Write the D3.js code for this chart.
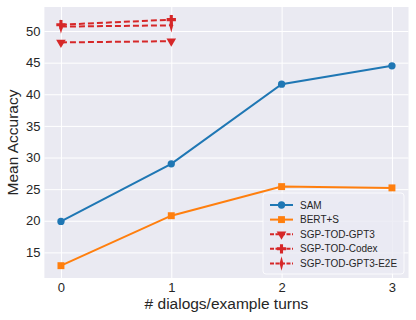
<!DOCTYPE html>
<html><head><meta charset="utf-8">
<script src="https://cdn.jsdelivr.net/npm/d3@7"></script>
<style>body{margin:0;background:#fff}svg{display:block}text{font-family:"Liberation Sans",Arial,sans-serif}</style>
</head><body>
<script>
const xTicks = [0, 1, 2, 3];
const yTicks = [15, 20, 25, 30, 35, 40, 45, 50];
const samX = [0, 1, 2, 3];
const samY = [19.9, 29.0, 41.6, 44.5];
const bertX = [0, 1, 2, 3];
const bertY = [12.9, 20.8, 25.4, 25.2];
const gpt3X = [0, 1];
const gpt3Y = [48.2, 48.4];
const codexX = [0, 1];
const codexY = [51.0, 51.8];
const e2eX = [0, 1];
const e2eY = [50.7, 50.9];
const seriesNames = ["SAM", "BERT+S", "SGP-TOD-GPT3", "SGP-TOD-Codex", "SGP-TOD-GPT3-E2E"];

const W = 416, H = 320;
const m = {left: 44.4, right: 7.5, top: 7, bottom: 42};
const svg = d3.select("body").append("svg").attr("width", W).attr("height", H);
const x = d3.scaleLinear().domain([-0.15, 3.15]).range([m.left, W - m.right]);
const y = d3.scaleLinear().domain([10.95, 53.8]).range([H - m.bottom, m.top]);

svg.append("rect").attr("x", m.left).attr("y", m.top)
  .attr("width", W - m.right - m.left).attr("height", H - m.bottom - m.top).attr("fill", "#EAEAF2");

const gx = svg.append("g").attr("transform", `translate(0,${H - m.bottom})`)
  .call(d3.axisBottom(x).tickValues(xTicks).tickFormat(d3.format("d")).tickSize(-(H - m.bottom - m.top)).tickPadding(5));
const gy = svg.append("g").attr("transform", `translate(${m.left},0)`)
  .call(d3.axisLeft(y).tickValues(yTicks).tickSize(-(W - m.right - m.left)).tickPadding(4));
[gx, gy].forEach(g => {
  g.select(".domain").remove();
  g.selectAll(".tick line").attr("stroke", "#fff").attr("stroke-width", 1);
  g.selectAll(".tick text").attr("fill", "#262626").attr("font-size", 13);
});

svg.append("text").attr("x", (m.left + W - m.right) / 2).attr("y", 308.5).attr("text-anchor", "middle")
  .attr("font-size", 15.5).attr("fill", "#262626").text("# dialogs/example turns");
svg.append("text").attr("transform", `translate(18,${(m.top + H - m.bottom) / 2}) rotate(-90)`)
  .attr("text-anchor", "middle").attr("font-size", 15.5).attr("fill", "#262626").text("Mean Accuracy");

const blue = "#1f77b4", orange = "#ff7f0e", red = "#d62728";
const sym = {
  circle: d3.symbol().type(d3.symbolCircle).size(42),
  square: d3.symbol().type(d3.symbolSquare).size(48),
  tri: d3.symbol().type(d3.symbolTriangle).size(40),
  plus: d3.symbol().type(d3.symbolCross).size(48),
  diamond: d3.symbol().type(d3.symbolDiamond).size(36)
};
const series = [
  {xs: samX, ys: samY, c: blue, m: "circle", dash: null},
  {xs: bertX, ys: bertY, c: orange, m: "square", dash: null},
  {xs: gpt3X, ys: gpt3Y, c: red, m: "tri", dash: "6,3"},
  {xs: codexX, ys: codexY, c: red, m: "plus", dash: "6,3"},
  {xs: e2eX, ys: e2eY, c: red, m: "diamond", dash: "6,3"}
];
function marker(g, type, cx, cy, c) {
  let t = `translate(${cx},${cy})`;
  if (type === "tri") t += " rotate(180)";
  if (type === "diamond") t += " scale(0.6,1.3)";
  g.append("path").attr("d", sym[type]()).attr("transform", t).attr("fill", c);
}
const line = d3.line();
series.forEach(s => {
  const pts = s.xs.map((v, i) => [x(v), y(s.ys[i])]);
  svg.append("path").attr("d", line(pts)).attr("fill", "none").attr("stroke", s.c)
    .attr("stroke-width", 2).attr("stroke-dasharray", s.dash);
  pts.forEach(p => marker(svg, s.m, p[0], p[1], s.c));
});

// legend
const lg = svg.append("g");
lg.append("rect").attr("x", 263).attr("y", 193).attr("width", 141).attr("height", 81)
  .attr("rx", 3).attr("fill", "#EAEAF2").attr("fill-opacity", 0.8).attr("stroke", "#fff").attr("stroke-opacity", 0.8);
const ly0 = 205, ldy = 14.6;
series.forEach((s, i) => {
  const yy = ly0 + i * ldy;
  lg.append("line").attr("x1", 270).attr("x2", 293).attr("y1", yy).attr("y2", yy)
    .attr("stroke", s.c).attr("stroke-width", 2).attr("stroke-dasharray", s.dash ? "4,1.5" : null);
  marker(lg, s.m, 281.5, yy, s.c);
  lg.append("text").attr("x", 300).attr("y", yy).attr("dy", "0.35em").attr("font-size", 10)
    .attr("fill", "#262626").text(seriesNames[i]);
});
</script>
</body></html>
